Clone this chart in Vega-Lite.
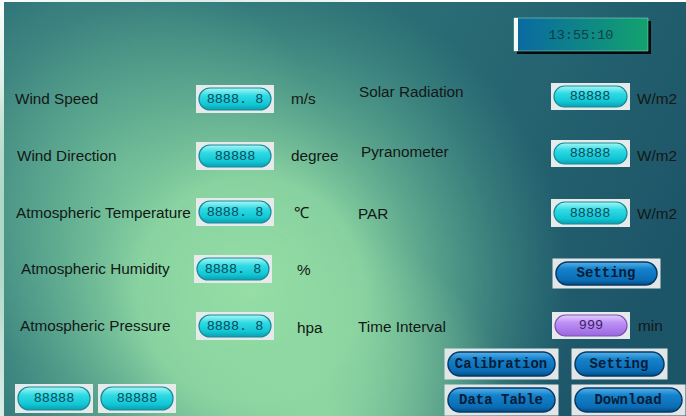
{
  "$schema": "https://vega.github.io/schema/vega-lite/v6.json",
  "width": 686,
  "height": 416,
  "autosize": {"type": "fit", "contains": "padding"},
  "padding": 0,
  "background": "#ffffff",
  "config": {"view": {"stroke": null}},
  "datasets": {
    "bg": [{"x": 4, "x2": 686, "y": 2, "y2": 416}],
    "glowA": [{"x": -70, "x2": 570, "y": -30, "y2": 610}],
    "glowB": [{"x": -90, "x2": 330, "y": -40, "y2": 380}],
    "glowC": [{"x": 130, "x2": 510, "y": 230, "y2": 610}],
    "clockShadow": [{"x": 517, "x2": 651, "y": 21, "y2": 54}],
    "clock": [{"x": 514, "x2": 648, "y": 18, "y2": 51, "cx": 581, "cy": 35, "text": "13:55:10"}],
    "pills": [
      {"type": "cyan", "x": 199, "x2": 271, "y": 88, "y2": 110, "cx": 235, "cy": 99, "text": "8888. 8"},
      {"type": "cyan", "x": 199, "x2": 271, "y": 145, "y2": 167, "cx": 235, "cy": 156, "text": "88888"},
      {"type": "cyan", "x": 199, "x2": 271, "y": 201, "y2": 223, "cx": 235, "cy": 212, "text": "8888. 8"},
      {"type": "cyan", "x": 197, "x2": 269, "y": 258, "y2": 280, "cx": 233, "cy": 269, "text": "8888. 8"},
      {"type": "cyan", "x": 199, "x2": 271, "y": 315, "y2": 337, "cx": 235, "cy": 326, "text": "8888. 8"},
      {"type": "cyan", "x": 554, "x2": 627, "y": 86, "y2": 107, "cx": 590, "cy": 96, "text": "88888"},
      {"type": "cyan", "x": 554, "x2": 627, "y": 143, "y2": 164, "cx": 590, "cy": 153, "text": "88888"},
      {"type": "cyan", "x": 554, "x2": 627, "y": 202, "y2": 224, "cx": 590, "cy": 213, "text": "88888"},
      {"type": "cyan", "x": 18, "x2": 90, "y": 387, "y2": 410, "cx": 54, "cy": 398, "text": "88888"},
      {"type": "cyan", "x": 101, "x2": 173, "y": 387, "y2": 410, "cx": 137, "cy": 398, "text": "88888"},
      {"type": "purple", "x": 555, "x2": 627, "y": 315, "y2": 336, "cx": 591, "cy": 325, "text": "999"},
      {"type": "blue", "x": 556, "x2": 657, "y": 262, "y2": 285, "cx": 606, "cy": 273, "text": "Setting"},
      {"type": "blue", "x": 448, "x2": 555, "y": 352, "y2": 376, "cx": 501, "cy": 364, "text": "Calibration"},
      {"type": "blue", "x": 575, "x2": 664, "y": 352, "y2": 376, "cx": 619, "cy": 364, "text": "Setting"},
      {"type": "blue", "x": 448, "x2": 555, "y": 388, "y2": 412, "cx": 501, "cy": 400, "text": "Data Table"},
      {"type": "blue", "x": 575, "x2": 682, "y": 388, "y2": 412, "cx": 628, "cy": 400, "text": "Download"}
    ],
    "labels": [
      {"x": 15, "y": 99, "text": "Wind Speed"},
      {"x": 17, "y": 156, "text": "Wind Direction"},
      {"x": 16, "y": 213, "text": "Atmospheric Temperature"},
      {"x": 21, "y": 269, "text": "Atmospheric Humidity"},
      {"x": 20, "y": 326, "text": "Atmospheric Pressure"},
      {"x": 359, "y": 92, "text": "Solar Radiation"},
      {"x": 361, "y": 152, "text": "Pyranometer"},
      {"x": 358, "y": 214, "text": "PAR"},
      {"x": 358, "y": 327, "text": "Time Interval"},
      {"x": 291, "y": 99, "text": "m/s"},
      {"x": 291, "y": 156, "text": "degree"},
      {"x": 294, "y": 213, "text": "℃"},
      {"x": 297, "y": 270, "text": "%"},
      {"x": 297, "y": 328, "text": "hpa"},
      {"x": 637, "y": 99, "text": "W/m2"},
      {"x": 637, "y": 156, "text": "W/m2"},
      {"x": 637, "y": 214, "text": "W/m2"},
      {"x": 638, "y": 326, "text": "min"}
    ]
  },
  "layer": [
    {
      "data": {"name": "bg"},
      "mark": {
        "type": "rect",
        "color": {
          "gradient": "linear", "x1": 0, "y1": 0.3, "x2": 1, "y2": 0.6,
          "stops": [
            {"offset": 0, "color": "#2e7479"},
            {"offset": 0.5, "color": "#2a6d75"},
            {"offset": 1, "color": "#1c5468"}
          ]
        }
      },
      "encoding": {
        "x": {"field": "x", "type": "quantitative", "axis": null, "scale": {"domain": [0, 686], "nice": false, "zero": false}},
        "x2": {"field": "x2"},
        "y": {"field": "y", "type": "quantitative", "axis": null, "scale": {"domain": [0, 416], "nice": false, "zero": false, "reverse": true}},
        "y2": {"field": "y2"}
      }
    },
    {
      "data": {"name": "glowB"},
      "mark": {
        "type": "rect", "clip": true,
        "color": {
          "gradient": "radial", "x1": 0.5, "y1": 0.5, "r1": 0, "x2": 0.5, "y2": 0.5, "r2": 0.5,
          "stops": [
            {"offset": 0, "color": "rgba(115,190,152,0.8)"},
            {"offset": 1, "color": "rgba(115,190,152,0)"}
          ]
        }
      },
      "encoding": {
        "x": {"field": "x", "type": "quantitative"},
        "x2": {"field": "x2"},
        "y": {"field": "y", "type": "quantitative"},
        "y2": {"field": "y2"}
      }
    },
    {
      "data": {"name": "glowA"},
      "mark": {
        "type": "rect", "clip": true,
        "color": {
          "gradient": "radial", "x1": 0.5, "y1": 0.5, "r1": 0, "x2": 0.5, "y2": 0.5, "r2": 0.5,
          "stops": [
            {"offset": 0, "color": "rgba(150,223,166,1)"},
            {"offset": 0.35, "color": "rgba(140,214,162,0.95)"},
            {"offset": 0.7, "color": "rgba(100,180,148,0.5)"},
            {"offset": 1, "color": "rgba(80,160,140,0)"}
          ]
        }
      },
      "encoding": {
        "x": {"field": "x", "type": "quantitative"},
        "x2": {"field": "x2"},
        "y": {"field": "y", "type": "quantitative"},
        "y2": {"field": "y2"}
      }
    },
    {
      "data": {"name": "glowC"},
      "mark": {
        "type": "rect", "clip": true,
        "color": {
          "gradient": "radial", "x1": 0.5, "y1": 0.5, "r1": 0, "x2": 0.5, "y2": 0.5, "r2": 0.5,
          "stops": [
            {"offset": 0, "color": "rgba(145,218,163,0.9)"},
            {"offset": 1, "color": "rgba(145,218,163,0)"}
          ]
        }
      },
      "encoding": {
        "x": {"field": "x", "type": "quantitative"},
        "x2": {"field": "x2"},
        "y": {"field": "y", "type": "quantitative"},
        "y2": {"field": "y2"}
      }
    },
    {
      "data": {"name": "clockShadow"},
      "mark": {"type": "rect", "color": "#050a0a"},
      "encoding": {
        "x": {"field": "x", "type": "quantitative"},
        "x2": {"field": "x2"},
        "y": {"field": "y", "type": "quantitative"},
        "y2": {"field": "y2"}
      }
    },
    {
      "data": {"name": "clock"},
      "mark": {
        "type": "rect",
        "color": {
          "gradient": "linear", "x1": 0, "y1": 0, "x2": 1, "y2": 0,
          "stops": [
            {"offset": 0, "color": "#0a68a2"},
            {"offset": 1, "color": "#12a26e"}
          ]
        },
        "stroke": "#9fe0d0",
        "strokeWidth": 0.5
      },
      "encoding": {
        "x": {"field": "x", "type": "quantitative"},
        "x2": {"field": "x2"},
        "y": {"field": "y", "type": "quantitative"},
        "y2": {"field": "y2"}
      }
    },
    {
      "data": {"name": "clock"},
      "mark": {"type": "rect", "color": "#f4f8f6", "width": 4, "align": "left"},
      "encoding": {
        "x": {"field": "x", "type": "quantitative"},
        "y": {"field": "y", "type": "quantitative"},
        "y2": {"field": "y2"}
      }
    },
    {
      "data": {"name": "clock"},
      "mark": {"type": "text", "font": "Liberation Mono", "fontSize": 13.5, "color": "#0b3f48"},
      "encoding": {
        "x": {"field": "cx", "type": "quantitative"},
        "y": {"field": "cy", "type": "quantitative"},
        "text": {"field": "text"}
      }
    },
    {
      "data": {"name": "pills"},
      "transform": [{"filter": "datum.type != 'blue'"}],
      "mark": {"type": "rect", "color": "#e6eaea", "stroke": "#e6eaea", "strokeWidth": 6},
      "encoding": {
        "x": {"field": "x", "type": "quantitative"},
        "x2": {"field": "x2"},
        "y": {"field": "y", "type": "quantitative"},
        "y2": {"field": "y2"}
      }
    },
    {
      "data": {"name": "pills"},
      "transform": [{"filter": "datum.type == 'blue'"}],
      "mark": {"type": "rect", "color": "#e2e6e6", "stroke": "#e2e6e6", "strokeWidth": 7},
      "encoding": {
        "x": {"field": "x", "type": "quantitative"},
        "x2": {"field": "x2"},
        "y": {"field": "y", "type": "quantitative"},
        "y2": {"field": "y2"}
      }
    },
    {
      "data": {"name": "pills"},
      "transform": [{"filter": "datum.type == 'cyan'"}],
      "mark": {
        "type": "rect", "cornerRadius": 11, "stroke": "#178a96", "strokeWidth": 1.2,
        "color": {
          "gradient": "linear", "x1": 0, "y1": 0, "x2": 0, "y2": 1,
          "stops": [
            {"offset": 0, "color": "#a8f6f6"},
            {"offset": 0.35, "color": "#2fdbe4"},
            {"offset": 0.75, "color": "#12c6d4"},
            {"offset": 1, "color": "#0a9fb0"}
          ]
        }
      },
      "encoding": {
        "x": {"field": "x", "type": "quantitative"},
        "x2": {"field": "x2"},
        "y": {"field": "y", "type": "quantitative"},
        "y2": {"field": "y2"}
      }
    },
    {
      "data": {"name": "pills"},
      "transform": [{"filter": "datum.type == 'purple'"}],
      "mark": {
        "type": "rect", "cornerRadius": 11, "stroke": "#7a52b0", "strokeWidth": 1.2,
        "color": {
          "gradient": "linear", "x1": 0, "y1": 0, "x2": 0, "y2": 1,
          "stops": [
            {"offset": 0, "color": "#e4cfff"},
            {"offset": 0.35, "color": "#bf92f6"},
            {"offset": 1, "color": "#9a66e0"}
          ]
        }
      },
      "encoding": {
        "x": {"field": "x", "type": "quantitative"},
        "x2": {"field": "x2"},
        "y": {"field": "y", "type": "quantitative"},
        "y2": {"field": "y2"}
      }
    },
    {
      "data": {"name": "pills"},
      "transform": [{"filter": "datum.type == 'blue'"}],
      "mark": {
        "type": "rect", "cornerRadius": 12, "stroke": "#053a66", "strokeWidth": 1.5,
        "color": {
          "gradient": "linear", "x1": 0, "y1": 0, "x2": 0, "y2": 1,
          "stops": [
            {"offset": 0, "color": "#5ab2ea"},
            {"offset": 0.3, "color": "#1482cc"},
            {"offset": 0.8, "color": "#0a6cb4"},
            {"offset": 1, "color": "#064a80"}
          ]
        }
      },
      "encoding": {
        "x": {"field": "x", "type": "quantitative"},
        "x2": {"field": "x2"},
        "y": {"field": "y", "type": "quantitative"},
        "y2": {"field": "y2"}
      }
    },
    {
      "data": {"name": "pills"},
      "transform": [{"filter": "datum.type == 'cyan'"}],
      "mark": {"type": "text", "font": "Liberation Mono", "fontSize": 13.5, "color": "#0b4b5a"},
      "encoding": {
        "x": {"field": "cx", "type": "quantitative"},
        "y": {"field": "cy", "type": "quantitative"},
        "text": {"field": "text"}
      }
    },
    {
      "data": {"name": "pills"},
      "transform": [{"filter": "datum.type == 'purple'"}],
      "mark": {"type": "text", "font": "Liberation Mono", "fontSize": 13.5, "color": "#3a1f66"},
      "encoding": {
        "x": {"field": "cx", "type": "quantitative"},
        "y": {"field": "cy", "type": "quantitative"},
        "text": {"field": "text"}
      }
    },
    {
      "data": {"name": "pills"},
      "transform": [{"filter": "datum.type == 'blue'"}],
      "mark": {"type": "text", "font": "Liberation Mono", "fontSize": 14, "fontWeight": "bold", "color": "#071c36"},
      "encoding": {
        "x": {"field": "cx", "type": "quantitative"},
        "y": {"field": "cy", "type": "quantitative"},
        "text": {"field": "text"}
      }
    },
    {
      "data": {"name": "labels"},
      "mark": {"type": "text", "align": "left", "baseline": "middle", "font": "Liberation Sans", "fontSize": 15.3, "color": "#121816"},
      "encoding": {
        "x": {"field": "x", "type": "quantitative"},
        "y": {"field": "y", "type": "quantitative"},
        "text": {"field": "text"}
      }
    }
  ]
}
